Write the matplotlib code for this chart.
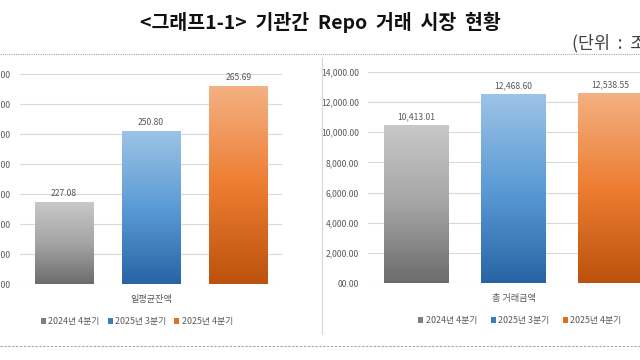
import numpy as np
import matplotlib
matplotlib.use("Agg")
import matplotlib.pyplot as plt
from matplotlib.patches import Patch
from matplotlib.lines import Line2D
from matplotlib.ticker import FuncFormatter

plt.rcParams['font.family'] = ['Noto Sans CJK KR', 'DejaVu Sans']

# ---- data ----
periods = ['2024년 4분기', '2025년 3분기', '2025년 4분기']
avg_balance = [227.08, 250.80, 265.69]
total_volume = [10413.01, 12468.60, 12538.55]
cat_left = '일평균잔액'
cat_right = '총 거래금액'
title = '<그래프1-1>  기관간  Repo  거래  시장  현황'
unit = '(단위  :  조원)'

# gradient stops (top, middle, bottom) and legend colours per series
grad_stops = [
    [(200, 200, 200), (165, 165, 165), (108, 108, 108)],
    [(157, 195, 230), (91, 155, 213), (40, 100, 165)],
    [(244, 177, 131), (237, 125, 49), (188, 82, 14)],
]
legend_cols = ['#7f7f7f', '#3a7cc0', '#e0701e']
txt_col = '#595959'


def fmt(v, pos=None):
    # Excel style "#,#00.00"
    s = f"{v:,.2f}"
    if abs(v) < 10:
        s = f"{v:05.2f}"
    return s


def gradient(stops, n=256):
    top, mid, bot = [np.array(c) / 255.0 for c in stops]
    t = np.linspace(0, 1, n)  # 0 = bottom, 1 = top
    out = np.zeros((n, 1, 3))
    for i, tt in enumerate(t):
        if tt < 0.5:
            out[i, 0] = bot + (mid - bot) * (tt / 0.5)
        else:
            out[i, 0] = mid + (top - mid) * ((tt - 0.5) / 0.5)
    return out


def draw_panel(ax, values, ylim, step, cat):
    x = np.arange(len(values))
    bars = ax.bar(x, values, width=0.667, color='none', zorder=3)
    ymin = ylim[0]
    for b, stops in zip(bars, grad_stops):
        x0 = b.get_x()
        x1 = x0 + b.get_width()
        ax.imshow(gradient(stops), extent=(x0, x1, ymin, b.get_height()),
                  origin='lower', aspect='auto', zorder=3, interpolation='bilinear')
    for xi, v in zip(x, values):
        ax.annotate(fmt(v), (xi, v), xytext=(0, 9), textcoords='offset pixels',
                    ha='center', va='center', fontsize=6.2, color=txt_col, zorder=4)
    ax.set_xlim(-0.5, len(values) - 0.5)
    ax.set_ylim(*ylim)
    ax.set_yticks(np.arange(ylim[0], ylim[1] + step / 2, step))
    ax.yaxis.set_major_formatter(FuncFormatter(fmt))
    ax.set_xticks([1])
    ax.set_xticklabels([cat], fontsize=6.6)
    ax.tick_params(axis='both', length=0, labelsize=6.2, labelcolor=txt_col)
    ax.tick_params(axis='x', labelsize=6.6, pad=8)
    ax.tick_params(axis='y', pad=6.5)
    ax.grid(axis='y', color='#d9d9d9', lw=0.8, zorder=0)
    ax.set_axisbelow(True)
    for s in ax.spines.values():
        s.set_visible(False)


fig = plt.figure(figsize=(6.4, 3.6), dpi=100)
fig.patch.set_facecolor('white')

W, H = 640.0, 360.0
axL = fig.add_axes([20 / W, 1 - 284.3 / H, 262 / W, 210.3 / H])
axR = fig.add_axes([368 / W, 1 - 283.3 / H, 291 / W, 211.6 / H])

draw_panel(axL, avg_balance, (200, 270), 10, cat_left)
draw_panel(axR, total_volume, (0, 14000), 2000, cat_right)

handles = [Patch(facecolor=c, edgecolor='none') for c in legend_cols]
fig.legend(handles, periods, loc='center', bbox_to_anchor=(137 / W, 1 - 321.5 / H),
           ncol=3, frameon=False, fontsize=6.4, labelcolor=txt_col,
           handlelength=0.55, handleheight=0.55, handletextpad=0.3,
           columnspacing=0.9)
fig.legend(handles, periods, loc='center', bbox_to_anchor=(520 / W, 1 - 320.7 / H),
           ncol=3, frameon=False, fontsize=6.4, labelcolor=txt_col,
           handlelength=0.55, handleheight=0.55, handletextpad=0.3,
           columnspacing=1.5)

# title and unit
fig.text(320 / W, 1 - 22 / H, title, ha='center', va='center',
         fontsize=14, fontweight='bold', color='#111111')
fig.text(572 / W, 1 - 43 / H, unit, ha='left', va='center',
         fontsize=12.5, color='#404040')

# box separators
fig.add_artist(Line2D([0, 1], [1 - 53.5 / H, 1 - 53.5 / H], transform=fig.transFigure,
                      color='#a6a6a6', lw=0.8, ls=(0, (1, 1))))
fig.add_artist(Line2D([0, 1], [1 - 345.5 / H, 1 - 345.5 / H], transform=fig.transFigure,
                      color='#a6a6a6', lw=0.8, ls=(0, (2, 1.5))))
fig.add_artist(Line2D([322 / W, 322 / W], [1 - 334 / H, 1 - 58 / H], transform=fig.transFigure,
                      color='#d9d9d9', lw=0.9))

fig.savefig('out.png', dpi=100)
